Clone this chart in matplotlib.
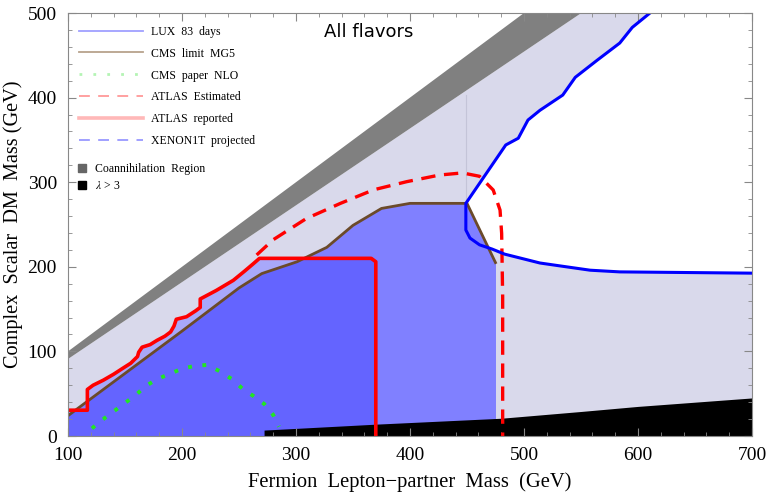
import matplotlib
matplotlib.use("Agg")
import matplotlib.pyplot as plt
from matplotlib.lines import Line2D
from matplotlib.ticker import MultipleLocator

plt.rcParams["mathtext.fontset"] = "stix"
SERIF = ["Liberation Serif", "DejaVu Serif"]

# coannihilation band: m_DM between the two edges
coann_x = [100, 700]
coann_hi = [100, 700]
coann_lo = [91, 636]

# LUX 83 days: upper branch down to the kink, then the lower branch out to 700
lux_x = [610.5, 595, 584, 564, 545, 534, 514, 503.5, 495, 484, 449,
         449, 452.6, 461, 472, 483, 514, 532, 558, 584, 700]
lux_y = [500, 483, 464.5, 444, 424, 403, 385, 373.5, 352, 344, 275,
         243.5, 234, 226, 221, 215, 204.5, 201, 196, 194, 192.5]

# CMS limit (MG5)
cms_x = [100, 150, 200, 250, 270, 301, 327, 350, 375, 400, 450, 475]
cms_y = [24, 74, 124, 175, 192, 206, 223, 249, 269, 275, 275, 205]

# ATLAS reported
atl_x = [100, 117, 117, 122, 131, 140, 148, 155, 161, 162, 165, 172, 178, 185,
         190, 193, 195, 204, 212, 216, 216, 230, 245, 255, 262, 268, 366, 370, 370]
atl_y = [30.5, 30.5, 55, 60, 66, 73, 80, 86, 94, 99, 105, 108, 113, 118,
         123, 130, 138, 141, 148, 152, 162, 172, 184, 195, 203, 210, 210, 206, 0]

# ATLAS estimated
atle_x = [265.5, 280, 309, 339, 368, 397, 426, 446, 461, 473, 479, 480.4, 481.3, 481.3]
atle_y = [214, 232, 257, 275, 291, 300.6, 308.5, 311, 307, 290.8, 267, 239.6, 164.6, 0]

# CMS paper NLO
nlo_x = [121, 130, 140, 150, 160, 168, 178, 190, 201, 212, 222, 234, 244, 253, 263, 272, 280, 285]
nlo_y = [9, 19, 29, 39, 49, 59, 67, 74, 80, 83, 84, 76, 67, 56, 47, 38, 25, 11]

# lambda > 3 region (upper edge)
lam_x = [272, 370, 480, 550, 600, 700]
lam_y = [7, 14, 21, 29, 35, 45]

# faint vertical artefact at the LUX kink
kink_x = [449.5, 449.5]
kink_y = [275, 403]

fig = plt.figure(figsize=(7.7, 4.93), dpi=100)
ax = fig.add_axes([0.0883, 0.1156, 0.8883, 0.858])

# filled regions, back to front
ax.fill_between(coann_x, 0, coann_lo, color="#d9d9eb", lw=0)
ax.fill_between(coann_x, coann_lo, coann_hi, color="#808080", lw=0)
ax.fill(lux_x + [700], lux_y + [500], color="white", lw=0)
light = ax.fill_between(atl_x, 0, atl_y, color="#a8a8fa", lw=0)
ax.fill_between(cms_x, 0, cms_y, color="#8080ff", lw=0)
dark = ax.fill_between(cms_x, 0, cms_y, color="#6464ff", lw=0)
dark.set_clip_path(light.get_paths()[0], ax.transData)
ax.fill_between(lam_x, 0, lam_y, color="black", lw=0)
ax.plot(kink_x, kink_y, color="#c4c4d8", lw=0.8)

# limit curves
ax.plot(nlo_x, nlo_y, color="#22e622", lw=2.8, ls=(0, (1, 2.7)))
ax.plot(cms_x, cms_y, color="#6b4a2a", lw=2.0)
ax.plot(atl_x, atl_y, color="#ff0000", lw=2.6, solid_joinstyle="round")
ax.plot(atle_x, atle_y, color="#ff0000", lw=2.4, ls=(0, (4.3, 2.6)))
ax.plot(lux_x, lux_y, color="#0000ff", lw=2.2)

ax.set_xlim(100, 700)
ax.set_ylim(0, 500)
ax.xaxis.set_major_locator(MultipleLocator(100))
ax.xaxis.set_minor_locator(MultipleLocator(20))
ax.yaxis.set_major_locator(MultipleLocator(100))
ax.yaxis.set_minor_locator(MultipleLocator(20))
ax.tick_params(which="both", direction="in", top=True, right=True, color="#888888")
ax.tick_params(which="major", length=6, labelsize=14)
ax.tick_params(which="minor", length=3)
ax.tick_params(axis="x", which="major", pad=8)
ax.tick_params(axis="y", which="major", pad=8)
for lab in ax.get_xticklabels() + ax.get_yticklabels():
    lab.set_family(SERIF)
for s in ax.spines.values():
    s.set_color("#888888")

ax.set_xlabel("Fermion  Lepton\u2212partner  Mass  (GeV)", family=SERIF,
              fontsize=14.8, labelpad=6)
ax.set_ylabel("Complex  Scalar  DM  Mass (GeV)", family=SERIF,
              fontsize=14.6, labelpad=3)
ax.text(0.44, 0.955, "All flavors", transform=ax.transAxes, ha="center", va="center",
        fontsize=13, family="DejaVu Sans")

line_handles = [
    Line2D([], [], color="#a0a0ff", lw=1.3),
    Line2D([], [], color="#b8a28c", lw=1.3),
    Line2D([], [], color="#b4f4b4", lw=2.0, ls=(0, (1, 4))),
    Line2D([], [], color="#ff9090", lw=1.2, ls=(0, (6.5, 5))),
    Line2D([], [], color="#ffb8b8", lw=2.6),
    Line2D([], [], color="#9090ff", lw=1.2, ls=(0, (6.5, 5))),
]
line_labels = ["LUX  83  days", "CMS  limit  MG5", "CMS  paper  NLO",
               "ATLAS  Estimated", "ATLAS  reported", "XENON1T  projected"]
leg1 = ax.legend(line_handles, line_labels, loc="upper left", bbox_to_anchor=(0.016, 0.97),
                 frameon=False, borderpad=0, borderaxespad=0, handlelength=5.4,
                 handletextpad=0.7, labelspacing=0.84, prop={"family": SERIF, "size": 8.5})
ax.add_artist(leg1)

sq_handles = [
    Line2D([], [], color="#666666", marker="s", ms=5.5, ls="none"),
    Line2D([], [], color="black", marker="s", ms=5.5, ls="none"),
]
sq_labels = ["Coannihilation  Region", r"$\lambda$ > 3"]
ax.legend(sq_handles, sq_labels, loc="upper left", bbox_to_anchor=(0.012, 0.645),
          frameon=False, borderpad=0, borderaxespad=0, handlelength=1.0,
          handletextpad=0.6, labelspacing=0.45, prop={"family": SERIF, "size": 8.5})

fig.savefig("out.png", dpi=100)
